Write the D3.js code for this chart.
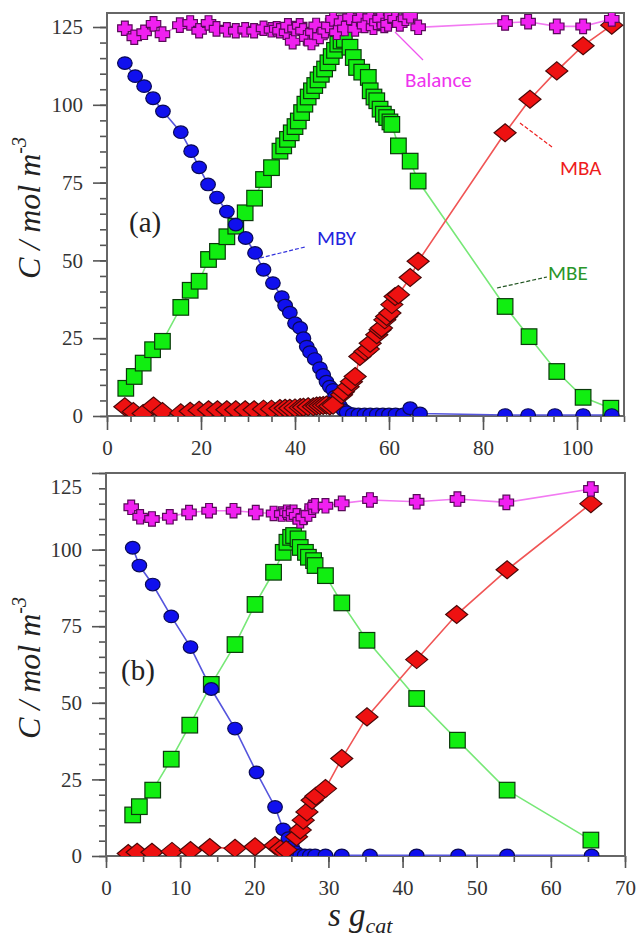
<!DOCTYPE html>
<html><head><meta charset="utf-8">
<script src="https://cdn.jsdelivr.net/npm/d3@7"></script>
<style>body{margin:0;background:#fff} svg{display:block}</style>
</head><body>
<script>
// ---------- DATA: panel (a) ----------
const topMBY = [[3.8,113.4],[6.0,109.2],[7.9,106],[9.8,102.1],[11.9,97.9],[15.7,91.2],[17.9,85.1],[19.6,79.9],[21.5,74.4],[23.4,70.2],[25.5,65.7],[27.4,61.5],[29.5,57.2],[31.5,52.4],[33.3,47],[35.3,42.7],[37.2,38.2],[37.9,35.5],[38.9,33.2],[40.0,29.8],[41.1,28.3],[41.8,25],[42.5,22.3],[43.2,20.5],[44.2,18.3],[45.3,15.4],[46.0,13.2],[46.7,11],[47.4,9.4],[48.1,8.4],[48.5,6.2],[48.9,4.6],[49.6,3.2],[50.3,1.9],[51.0,1.2],[52.3,0.6],[53.5,0.5],[54.8,0.5],[56.0,0.5],[57.4,0.5],[58.7,0.5],[60.0,0.5],[61.4,0.5],[63.0,0.5],[64.5,2.5],[66.6,0.8],[84.7,0.3],[89.6,0.3],[95.3,0.3],[101.3,0.3],[107.4,0.3]];
const topMBE = [[4.0,8.9],[5.8,12.7],[7.7,17],[9.7,21.3],[11.8,24],[15.7,34.9],[17.7,40.4],[19.6,43.3],[21.6,50.3],[23.5,52.9],[25.5,57.6],[27.4,61],[29.4,65.3],[31.4,70],[33.3,76],[35.0,79.8],[36.8,85.1],[37.6,86.8],[38.4,88.9],[39.2,91],[40.0,93],[40.7,94.8],[41.4,97.5],[42.1,100.2],[42.8,102.5],[43.5,104.5],[44.2,106.2],[44.9,108],[45.6,109.8],[46.3,111.5],[47.0,113.5],[47.7,115.5],[48.4,117.5],[49.1,119.5],[49.8,120.5],[50.5,121],[51.7,118.5],[52.4,115.2],[53.1,112],[54.2,110.5],[55.6,108.8],[56.0,104.5],[56.8,102.5],[57.4,101.3],[58.1,98.6],[58.8,97],[59.5,95.9],[60.2,94.5],[60.6,93.7],[62.0,86.8],[64.5,81.9],[66.2,75.5],[84.7,35.2],[89.8,25.5],[95.7,14.3],[101.3,6],[107.2,2.5]];
const topMBA = [[3.8,3.0],[5.6,1.4],[7.7,0.8],[9.9,3.2],[11.8,1.4],[15.7,1.0],[17.7,1.5],[19.6,1.8],[21.6,2.0],[23.5,2.0],[25.5,2.0],[27.4,2.0],[29.4,2.0],[31.3,2.0],[33.3,2.2],[35.0,2.2],[36.8,2.4],[37.9,2.5],[38.9,2.5],[40.0,2.6],[41.1,2.7],[41.8,2.8],[42.8,3.0],[43.9,3.0],[44.6,3.2],[45.3,3.3],[46.0,3.4],[46.7,3.5],[47.4,3.2],[48.1,3.5],[49.9,6.8],[50.3,7.8],[51.3,9.4],[52.0,11],[52.8,12.7],[53.8,19.1],[54.9,20.7],[55.6,21.5],[56.0,23.4],[57.4,26.1],[58.1,27.7],[58.4,28.3],[59.1,30.9],[59.5,32],[60.2,33.1],[60.6,35.8],[61.3,38.4],[62.0,39],[64.5,44.5],[66.2,49.7],[84.7,91],[90.0,101.8],[95.7,110.9],[101.3,119],[107.4,125.6]];
const topBal = [[3.8,124.6],[5.8,121.7],[7.9,123.3],[9.9,126],[11.8,122.7],[15.5,125.6],[17.7,126.3],[19.6,123.8],[21.6,126.3],[23.3,124.4],[25.5,124.1],[27.4,123.8],[29.4,124.1],[31.3,123.8],[33.3,124.6],[35.0,124.1],[36.1,124.4],[36.8,123.8],[38.2,123.3],[38.5,125.4],[39.5,120.3],[40.0,124.5],[41.0,125.4],[41.7,123.8],[42.5,121.5],[43.5,120],[43.8,123.4],[44.5,125.5],[45.3,122],[46.4,123.8],[47.2,125.5],[48.1,127.6],[48.9,123.3],[49.9,126.5],[50.6,124.5],[51.7,128.1],[52.8,124.4],[53.8,127.6],[54.8,125.5],[56.0,128.1],[56.7,124.9],[57.4,126.5],[58.1,127.6],[59.0,125.5],[59.8,126],[60.5,128.5],[61.3,127.6],[62.3,126],[63.5,127.8],[64.5,128.6],[66.2,124.9],[84.7,126.3],[89.6,126.7],[95.7,125.2],[101.3,125.2],[107.4,127.6]];

// ---------- DATA: panel (b) ----------
const botMBY = [[3.6,100.6],[4.5,94.8],[6.3,88.6],[8.8,78.2],[11.4,68.2],[14.2,54.5],[17.4,41.6],[20.3,27.3],[22.8,16],[23.9,8.7],[24.6,5.8],[25.1,3],[25.6,1.2],[26.2,0.3],[26.8,0.2],[27.5,0.2],[28.2,0.2],[29.6,0.2],[31.8,0.2],[35.6,0.2],[41.9,0.2],[47.5,0.2],[54.1,0.2],[65.5,0.2]];
const botMBE = [[3.6,13.4],[4.5,16.1],[6.3,21.5],[8.8,31.6],[11.3,42.7],[14.2,56],[17.4,69],[20.1,82.1],[22.6,92.6],[23.9,99.1],[24.4,102.4],[24.9,104],[25.3,104.6],[25.9,103.5],[26.2,100.7],[26.9,99.1],[27.3,97.5],[28.0,96.4],[28.2,94.8],[29.6,91.5],[31.8,82.6],[35.2,70.4],[41.9,51.4],[47.4,37.8],[54.1,21.5],[65.4,5.2]];
const botMBA = [[3.0,0.8],[4.2,1.2],[6.2,1.2],[8.9,1.5],[11.4,1.8],[14.0,2.8],[17.4,2.5],[20.1,3.0],[22.8,3.4],[23.5,2.3],[24.3,2.0],[25.7,6.3],[26.2,8.5],[26.6,11.7],[27.1,14.4],[27.8,18.2],[28.3,19.5],[29.6,22],[31.8,31.8],[35.2,45.4],[41.9,64.1],[47.3,78.8],[54.1,93.4],[65.4,115]];
const botBal = [[3.4,113.8],[4.6,110.7],[6.2,110.0],[8.6,110.7],[11.2,112.1],[13.9,112.7],[17.2,112.7],[20.2,112.1],[22.6,111.8],[23.7,111.6],[24.4,112.2],[24.8,111.6],[25.3,112.2],[25.7,111.0],[26.2,109.4],[26.6,110.5],[27.3,111.6],[27.8,113.8],[28.2,114.3],[29.6,114.3],[31.8,115.1],[35.6,116.2],[41.9,115.6],[47.4,116.5],[54.0,115.4],[65.4,119.8]];

// ---------- TICKS ----------
const topXMajor = [0,20,40,60,80,100];
const topXMinor = d3.range(0,111,5);
const botXMajor = [0,10,20,30,40,50,60,70];
const botXMinor = d3.range(0,71,5);
const yMajor = [0,25,50,75,100,125];
const yMinor = d3.range(0,126,5);

const W=638,H=937;
const svg=d3.select("body").append("svg").attr("width",W).attr("height",H).style("background","#fff");

const serif = "'Liberation Serif','Times New Roman',serif";
const sans = "Carlito,'Open Sans','Liberation Sans',sans-serif";

const styles = {
  MBY:{fill:"#1010ee",stroke:"#0a0a55",line:"#5555dd",shape:"circle"},
  MBE:{fill:"#11ee11",stroke:"#0b3a0b",line:"#77e877",shape:"square"},
  MBA:{fill:"#ee1111",stroke:"#4a0808",line:"#f05555",shape:"diamond"},
  Bal:{fill:"#f020f0",stroke:"#5a0a5a",line:"#f27af2",shape:"cross"}
};

let clipId=0;
function panel(cfg){
  const x=d3.scaleLinear().domain(cfg.xDomain).range([cfg.left,cfg.right]);
  const y=d3.scaleLinear().domain(cfg.yDomain).range([cfg.bottom,cfg.top]);
  const g=svg.append("g");
  const id="clip"+(clipId++);
  svg.append("defs").append("clipPath").attr("id",id).append("rect")
    .attr("x",cfg.left).attr("y",cfg.top).attr("width",cfg.right-cfg.left).attr("height",cfg.bottom-cfg.top);

  const styleAxis=(sel)=>{sel.select(".domain").remove();sel.selectAll("line").attr("stroke","#555").attr("stroke-width",1.6);
    sel.selectAll("text").attr("fill","#333").style("font-family",serif).style("font-size","21px");};
  g.append("g").attr("transform",`translate(${cfg.left},0)`)
    .call(d3.axisLeft(y).tickValues(yMinor.filter(v=>v<=cfg.yDomain[1])).tickSize(7).tickFormat("")).call(styleAxis);
  const ya=g.append("g").attr("transform",`translate(${cfg.left},0)`)
    .call(d3.axisLeft(y).tickValues(yMajor).tickSize(14).tickPadding(10).tickFormat(d3.format("d"))).call(styleAxis);
  if(cfg.nudgeTop) ya.selectAll(".tick").filter(d=>d===125).select("text").attr("transform","translate(0,14)");
  g.append("g").attr("transform",`translate(0,${cfg.bottom})`)
    .call(d3.axisBottom(x).tickValues(cfg.xMinor).tickSize(6).tickFormat("")).call(styleAxis);
  g.append("g").attr("transform",`translate(0,${cfg.bottom})`)
    .call(d3.axisBottom(x).tickValues(cfg.xMajor).tickSize(cfg.xTick).tickPadding(cfg.xPad).tickFormat(d3.format("d"))).call(styleAxis);

  g.append("rect").attr("x",cfg.left).attr("y",cfg.top).attr("width",cfg.right-cfg.left).attr("height",cfg.bottom-cfg.top)
    .attr("fill","none").attr("stroke","#666").attr("stroke-width",2);

  const plot=g.append("g").attr("clip-path",`url(#${id})`);
  const line=d3.line().x(d=>x(d[0])).y(d=>y(d[1]));
  cfg.series.forEach(s=>{
    plot.append("path").datum(s.data.slice().sort((a,b)=>a[0]-b[0])).attr("d",line)
      .attr("fill","none").attr("stroke",styles[s.key].line).attr("stroke-width",1.6);
  });
  cfg.series.forEach(s=>{
    const st=styles[s.key];
    const m=plot.append("g").selectAll("x").data(s.data).enter();
    let el;
    if(st.shape==="circle"){
      el=m.append("ellipse").attr("cx",d=>x(d[0])).attr("cy",d=>y(d[1])).attr("rx",7.3).attr("ry",6.3);
    } else if(st.shape==="square"){
      el=m.append("rect").attr("x",d=>x(d[0])-7.8).attr("y",d=>y(d[1])-7.8).attr("width",15.6).attr("height",15.6);
    } else if(st.shape==="diamond"){
      el=m.append("path").attr("d",d=>{const cx=x(d[0]),cy=y(d[1]);return `M${cx-11},${cy}L${cx},${cy-9}L${cx+11},${cy}L${cx},${cy+9}Z`;});
    } else {
      el=m.append("path").attr("d",d=>{const cx=x(d[0]),cy=y(d[1]),L=7.2,a=3.4,b=L-a;
        return `M${cx-a},${cy-L}h${2*a}v${b}h${b}v${2*a}h${-b}v${b}h${-2*a}v${-b}h${-b}v${-2*a}h${b}Z`;});
    }
    el.attr("fill",st.fill).attr("stroke",st.stroke).attr("stroke-width",1.2);
  });

  const yt=svg.append("text").attr("transform",`translate(40,${cfg.titleY}) rotate(-90)`)
    .attr("text-anchor","middle").style("font-family",serif).style("font-style","italic").style("font-size","32px").attr("fill","#222");
  yt.append("tspan").text("C / mol m");
  yt.append("tspan").text("-3").style("font-size","20px").attr("dy",-14);
  svg.append("text").attr("x",cfg.lab[0]).attr("y",cfg.lab[1]).text(cfg.label)
    .style("font-family",serif).style("font-size","29px").attr("fill","#222");
  return {x,y};
}

panel({xDomain:[0,110],yDomain:[0,129.5],left:107,right:624,top:13,bottom:416,
  xMajor:topXMajor,xMinor:topXMinor,xTick:14,xPad:10,titleY:208,label:"(a)",lab:[129,232],
  series:[{key:"MBE",data:topMBE},{key:"MBY",data:topMBY},{key:"MBA",data:topMBA},{key:"Bal",data:topBal}]});
panel({xDomain:[0,70],yDomain:[0,125],left:106,right:625,top:473,bottom:856,nudgeTop:true,
  xMajor:botXMajor,xMinor:botXMinor,xTick:12,xPad:12,titleY:668,label:"(b)",lab:[121,680],
  series:[{key:"MBE",data:botMBE},{key:"MBY",data:botMBY},{key:"MBA",data:botMBA},{key:"Bal",data:botBal}]});

const ann=[
  {t:"Balance",c:"#ee33ee",x:405,y:87,l:[395,32,423,60],lc:"#ee55ee",dash:null},
  {t:"MBA",c:"#ee1c1c",x:560,y:175,l:[520,123,552,147],lc:"#ee2222",dash:"4,2"},
  {t:"MBY",c:"#2424dd",x:317,y:245,l:[260,258,305,247],lc:"#3333dd",dash:"4,2"},
  {t:"MBE",c:"#2a962a",x:548,y:280,l:[497,288,547,277],lc:"#225522",dash:"4,2"}
];
ann.forEach(a=>{
  svg.append("line").attr("x1",a.l[0]).attr("y1",a.l[1]).attr("x2",a.l[2]).attr("y2",a.l[3])
    .attr("stroke",a.lc).attr("stroke-width",1.2).attr("stroke-dasharray",a.dash);
  svg.append("text").attr("x",a.x).attr("y",a.y).text(a.t).attr("fill",a.c)
    .style("font-family",sans).style("font-size","21px");
});

const xt=svg.append("text").attr("x",328).attr("y",926).style("font-family",serif).style("font-style","italic")
  .style("font-size","33px").attr("fill","#222");
xt.append("tspan").text("s g");
xt.append("tspan").text("cat").style("font-size","22px").attr("dy",7);
</script>
</body></html>
